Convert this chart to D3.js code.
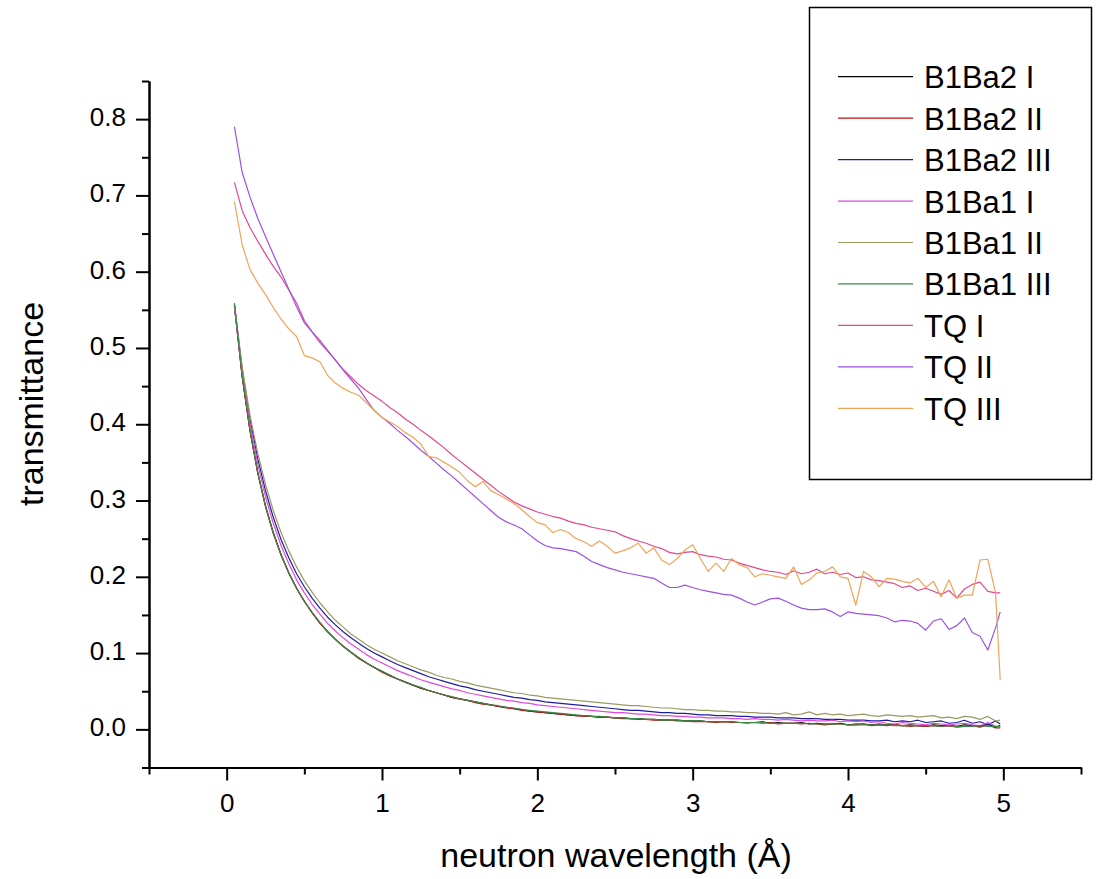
<!DOCTYPE html>
<html><head><meta charset="utf-8">
<script src="https://cdn.jsdelivr.net/npm/d3@7"></script>
<style>
html,body{margin:0;padding:0;background:#fff;}
svg{display:block;}
text{font-family:"Liberation Sans",Arial,sans-serif;fill:#000;}
</style></head>
<body><svg id="chart" width="1102" height="879"></svg>
<script>
// ---- data ----
const wavelength = [
0.05,0.10,0.15,0.20,0.25,0.30,0.35,0.40,0.45,0.50,
0.55,0.60,0.65,0.70,0.75,0.80,0.85,0.90,0.95,1.00,
1.05,1.10,1.15,1.20,1.25,1.30,1.35,1.40,1.45,1.50,
1.55,1.60,1.65,1.70,1.75,1.80,1.85,1.90,1.95,2.00,
2.05,2.10,2.15,2.20,2.25,2.30,2.35,2.40,2.45,2.50,
2.55,2.60,2.65,2.70,2.75,2.80,2.85,2.90,2.95,3.00,
3.05,3.10,3.15,3.20,3.25,3.30,3.35,3.40,3.45,3.50,
3.55,3.60,3.65,3.70,3.75,3.80,3.85,3.90,3.95,4.00,
4.05,4.10,4.15,4.20,4.25,4.30,4.35,4.40,4.45,4.50,
4.55,4.60,4.65,4.70,4.75,4.80,4.85,4.90,4.95,4.98];

const seriesNames = ["B1Ba2 I","B1Ba2 II","B1Ba2 III","B1Ba1 I","B1Ba1 II","B1Ba1 III","TQ I","TQ II","TQ III"];
const seriesColors = ["#000000","#c01010","#1c1ca0","#e048e0","#9a9a62","#3c8a4a","#e04a90","#9a52e2","#f0a458"];

const b1ba2_I = [
.555,.462,.392,.337,.293,.258,.229,.205,.185,.168,
.153,.140,.128,.118,.109,.101,.094,.087,.081,.076,
.071,.066,.062,.058,.054,.051,.048,.045,.042,.040,
.038,.036,.034,.032,.030,.029,.027,.026,.024,.023,
.022,.021,.020,.019,.018,.018,.017,.016,.016,.015,
.015,.014,.014,.013,.013,.012,.012,.012,.011,.011,
.011,.010,.010,.010,.010,.009,.009,.009,.010,.008,
.009,.008,.008,.009,.007,.008,.007,.007,.008,.006,
.007,.007,.006,.007,.006,.006,.005,.006,.005,.004,
.006,.005,.005,.004,.006,.005,.004,.007,.003,.005];

const b1ba2_II = [
.557,.463,.392,.336,.292,.257,.229,.205,.185,.168,
.153,.139,.128,.118,.109,.101,.093,.087,.081,.075,
.070,.066,.062,.058,.054,.051,.048,.045,.042,.040,
.038,.035,.033,.032,.030,.028,.027,.025,.024,.023,
.022,.021,.020,.019,.018,.017,.017,.016,.016,.015,
.014,.014,.013,.013,.012,.012,.012,.011,.011,.010,
.010,.010,.009,.010,.009,.009,.008,.009,.008,.009,
.007,.008,.008,.007,.008,.007,.006,.007,.007,.006,
.006,.007,.005,.006,.005,.006,.005,.004,.005,.004,
.005,.004,.005,.003,.004,.005,.003,.006,.002,.002];

const b1ba2_III = [
.556,.472,.407,.355,.313,.278,.249,.225,.204,.187,
.172,.159,.147,.137,.128,.120,.113,.106,.100,.095,
.090,.085,.081,.077,.073,.069,.066,.063,.060,.057,
.055,.052,.050,.048,.046,.044,.042,.041,.039,.038,
.036,.035,.034,.033,.032,.031,.030,.029,.028,.027,
.026,.025,.025,.024,.023,.022,.022,.021,.021,.020,
.019,.019,.018,.018,.018,.017,.017,.016,.016,.016,
.015,.015,.015,.014,.014,.014,.013,.013,.013,.012,
.012,.012,.011,.011,.012,.010,.011,.010,.012,.009,
.010,.011,.008,.009,.012,.008,.010,.006,.011,.007];

const b1ba1_I = [
.553,.468,.401,.348,.305,.270,.241,.217,.196,.179,
.164,.151,.139,.129,.120,.112,.105,.098,.092,.087,
.082,.077,.073,.069,.065,.062,.059,.056,.053,.051,
.048,.046,.044,.042,.040,.038,.037,.035,.034,.032,
.031,.030,.029,.028,.027,.026,.025,.024,.023,.022,
.022,.021,.020,.020,.019,.018,.018,.017,.017,.016,
.016,.015,.015,.015,.014,.014,.013,.014,.013,.013,
.012,.013,.012,.011,.012,.011,.011,.012,.010,.011,
.010,.011,.009,.010,.008,.007,.009,.008,.007,.006,
.008,.007,.006,.007,.008,.006,.005,.009,.004,.003];

const b1ba1_II = [
.557,.475,.412,.362,.321,.287,.258,.234,.213,.195,
.180,.166,.154,.143,.134,.125,.118,.111,.105,.100,
.095,.090,.086,.082,.078,.075,.071,.068,.066,.063,
.061,.058,.056,.054,.052,.050,.048,.047,.045,.044,
.042,.041,.040,.039,.038,.037,.036,.035,.034,.033,
.032,.031,.031,.030,.029,.028,.028,.027,.026,.026,
.025,.025,.024,.024,.023,.023,.022,.022,.021,.021,
.020,.022,.019,.020,.023,.019,.021,.019,.020,.018,
.019,.020,.018,.017,.019,.018,.017,.018,.016,.017,
.018,.015,.016,.014,.017,.016,.013,.017,.011,.012];

const b1ba1_III = [
.559,.464,.393,.337,.293,.257,.229,.205,.185,.168,
.153,.140,.128,.118,.109,.101,.094,.087,.081,.076,
.071,.066,.062,.058,.055,.051,.048,.045,.043,.040,
.038,.036,.034,.032,.031,.029,.028,.026,.025,.024,
.023,.022,.021,.020,.019,.018,.017,.017,.016,.015,
.015,.014,.014,.013,.013,.012,.012,.012,.011,.011,
.011,.010,.010,.010,.010,.009,.009,.009,.009,.008,
.008,.008,.008,.008,.007,.007,.007,.007,.007,.006,
.006,.006,.006,.006,.006,.005,.005,.005,.005,.005,
.005,.004,.005,.004,.004,.004,.005,.004,.004,.004];

const tq_I = [
.717,.680,.658,.640,.623,.607,.593,.576,.559,.536,
.521,.507,.496,.484,.472,.462,.452,.444,.437,.430,
.422,.415,.407,.400,.392,.385,.377,.369,.360,.352,
.344,.336,.328,.320,.312,.305,.298,.293,.289,.285,
.282,.279,.277,.273,.270,.268,.265,.263,.261,.259,
.254,.250,.247,.244,.240,.237,.232,.230,.232,.233,
.229,.227,.226,.223,.222,.218,.215,.212,.209,.207,
.206,.203,.208,.204,.206,.210,.204,.206,.203,.205,
.199,.200,.196,.195,.193,.191,.186,.188,.182,.185,
.181,.177,.182,.172,.184,.190,.193,.181,.179,.179];

const tq_II = [
.790,.730,.698,.670,.646,.623,.600,.577,.554,.533,
.521,.510,.497,.484,.471,.459,.447,.432,.418,.409,
.401,.392,.384,.375,.366,.358,.349,.340,.332,.323,
.314,.305,.296,.287,.278,.272,.268,.263,.255,.247,
.241,.238,.237,.235,.233,.227,.220,.216,.212,.209,
.206,.204,.202,.200,.198,.192,.186,.186,.189,.186,
.183,.181,.179,.177,.176,.172,.167,.163,.167,.171,
.172,.168,.163,.159,.157,.157,.158,.154,.148,.154,
.152,.151,.150,.149,.146,.141,.143,.142,.139,.130,
.142,.145,.131,.136,.146,.127,.122,.104,.133,.154];

const tq_III = [
.692,.635,.603,.585,.570,.553,.538,.525,.515,.490,
.487,.482,.464,.454,.447,.442,.438,.428,.418,.409,
.403,.397,.389,.383,.374,.358,.356,.350,.344,.337,
.326,.318,.325,.313,.308,.302,.296,.288,.279,.271,
.268,.258,.262,.258,.250,.246,.240,.247,.240,.231,
.234,.238,.244,.231,.238,.222,.216,.224,.235,.242,
.224,.207,.218,.207,.224,.216,.212,.200,.204,.202,
.200,.198,.213,.190,.196,.205,.207,.213,.200,.198,
.163,.207,.200,.187,.198,.197,.194,.192,.198,.186,
.194,.174,.196,.172,.176,.176,.222,.223,.179,.065];

const seriesValues = [b1ba2_I,b1ba2_II,b1ba2_III,b1ba1_I,b1ba1_II,b1ba1_III,tq_I,tq_II,tq_III];

const xMajorTicks = [0,1,2,3,4,5];
const xMinorTicks = [-0.5,0.5,1.5,2.5,3.5,4.5,5.5];
const yMajorTicks = [0.0,0.1,0.2,0.3,0.4,0.5,0.6,0.7,0.8];
const yMinorTicks = [-0.05,0.05,0.15,0.25,0.35,0.45,0.55,0.65,0.75,0.85];

// ---- chart ----
const svg = d3.select("#chart");
svg.append("rect").attr("width",1102).attr("height",879).attr("fill","#fff");

const x = d3.scaleLinear().domain([-0.5,5.5]).range([149,1081]);
const y = d3.scaleLinear().domain([-0.05,0.85]).range([767.5,81]);

const line = d3.line().x(d=>x(d[0])).y(d=>y(d[1]));
const plot = svg.append("g");
seriesValues.forEach((vals,i)=>{
  plot.append("path")
    .datum(wavelength.map((w,j)=>[w,vals[j]]))
    .attr("fill","none")
    .attr("stroke",seriesColors[i])
    .attr("stroke-width",1.2)
    .attr("stroke-linejoin","round")
    .attr("d",line);
});

// axes
function styleAxis(g){
  g.select(".domain").attr("stroke","#000").attr("stroke-width",2);
  g.selectAll(".tick line").attr("stroke","#000").attr("stroke-width",2);
}
const gxMinor = svg.append("g").attr("transform","translate(0,767.5)")
  .call(d3.axisBottom(x).tickValues(xMinorTicks).tickSize(7).tickSizeOuter(0).tickFormat(""));
styleAxis(gxMinor);
const gx = svg.append("g").attr("transform","translate(0,767.5)")
  .call(d3.axisBottom(x).tickValues(xMajorTicks).tickSize(13).tickSizeOuter(0).tickPadding(13).tickFormat(d3.format("d")));
styleAxis(gx);
gx.selectAll(".tick text").attr("font-size",26).attr("font-family","Liberation Sans, Arial, sans-serif").attr("fill","#000");

const gyMinor = svg.append("g").attr("transform","translate(149,0)")
  .call(d3.axisLeft(y).tickValues(yMinorTicks).tickSize(7).tickSizeOuter(0).tickFormat(""));
styleAxis(gyMinor);
const gy = svg.append("g").attr("transform","translate(149,0)")
  .call(d3.axisLeft(y).tickValues(yMajorTicks).tickSize(13).tickSizeOuter(0).tickPadding(10).tickFormat(d3.format(".1f")));
styleAxis(gy);
gy.selectAll(".tick text").attr("font-size",26).attr("dy","0.25em").attr("font-family","Liberation Sans, Arial, sans-serif").attr("fill","#000");

// axis titles
svg.append("text").attr("x",616).attr("y",867).attr("text-anchor","middle")
  .attr("font-size",34).text("neutron wavelength (Å)");
svg.append("text").attr("transform","translate(43,404) rotate(-90)").attr("text-anchor","middle")
  .attr("font-size",34).text("transmittance");

// legend
const lg = svg.append("g");
lg.append("rect").attr("x",809.5).attr("y",7.5).attr("width",282).attr("height",472)
  .attr("fill","#fff").attr("stroke","#000").attr("stroke-width",1.5);
seriesNames.forEach((name,i)=>{
  const ly = 76.7 + 41.45*i;
  lg.append("line").attr("x1",838).attr("x2",913).attr("y1",ly).attr("y2",ly)
    .attr("stroke",seriesColors[i]).attr("stroke-width",1.2);
  lg.append("text").attr("x",924).attr("y",ly+11.5).attr("font-size",31).text(name);
});
</script>
</body></html>
